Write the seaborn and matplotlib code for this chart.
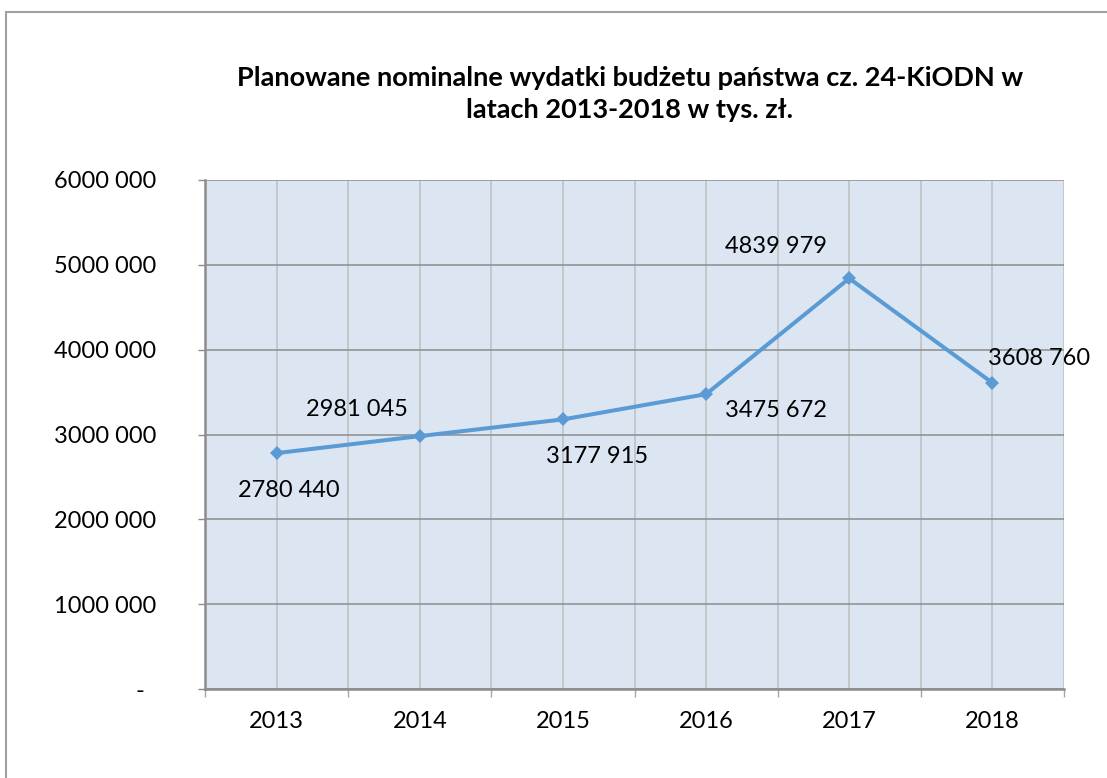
import matplotlib
matplotlib.use("Agg")
import matplotlib.pyplot as plt
from matplotlib.patches import Rectangle
from matplotlib.ticker import FixedLocator
import seaborn as sns
import pandas as pd

years = ['2013', '2014', '2015', '2016', '2017', '2018']
values = [2780440, 2981045, 3177915, 3475672, 4839979, 3608760]
y_ticks = [0, 1000000, 2000000, 3000000, 4000000, 5000000, 6000000]
y_tick_labels = ['-  ', '1000 000', '2000 000', '3000 000', '4000 000', '5000 000', '6000 000']
value_labels = ['2780 440', '2981 045', '3177 915', '3475 672', '4839 979', '3608 760']
title = 'Planowane nominalne wydatki budżetu państwa cz. 24-KiODN w\nlatach 2013-2018 w tys. zł.'

# label offsets (pixels) as placed in the original chart
label_dx = [12, -63, 34, 70, -73, 47]
label_dy = [-37, 27, -37, -16, 32, 24]

sns.set_style("white")
plt.rcParams['font.family'] = ['Lato', 'DejaVu Sans']
plt.rcParams['text.color'] = 'black'

line_color = '#5B9BD5'

df = pd.DataFrame({'pos': range(len(years)), 'value': values})

fig = plt.figure(figsize=(11.07, 7.78), dpi=100)
ax = fig.add_axes([205 / 1107, 1 - 689 / 778, (1064 - 205) / 1107, (689 - 180) / 778])
ax.set_facecolor('#DCE6F2')

sns.lineplot(
    data=df,
    x='pos',
    y='value',
    marker='D',
    markersize=7.5,
    markeredgewidth=0,
    color=line_color,
    linewidth=2.9,
    ax=ax,
    zorder=5
)

ax.set_xlim(-0.5, len(years) - 0.5)
ax.set_ylim(0, 6000000)

ax.set_yticks(y_ticks)
ax.set_yticklabels(y_tick_labels)
ax.set_xticks(range(len(years)))
ax.set_xticklabels(years)
ax.xaxis.set_minor_locator(FixedLocator([i - 0.5 for i in range(len(years) + 1)]))

ax.grid(True, axis='y', which='major', color='#8C8C8C', linewidth=1.1)
ax.grid(True, axis='x', which='major', color='#BFBFBF', linewidth=1.1)
ax.grid(True, axis='x', which='minor', color='#BFBFBF', linewidth=1.1)
ax.set_axisbelow(True)

ax.tick_params(axis='y', which='major', direction='out', length=5, width=1,
               color='#8C8C8C', pad=30, labelsize=17, labelcolor='black', left=True)
ax.tick_params(axis='x', which='major', length=0, pad=16, labelsize=17, labelcolor='black')
ax.tick_params(axis='x', which='minor', direction='out', length=6, width=1,
               color='#A6A6A6', bottom=True)

for side in ['top', 'right']:
    ax.spines[side].set_visible(False)
for side in ['left', 'bottom']:
    ax.spines[side].set_color('#8C8C8C')
    ax.spines[side].set_linewidth(1.8)

ax.set_xlabel('')
ax.set_ylabel('')

for i, lab in enumerate(value_labels):
    ax.annotate(
        lab,
        xy=(i, values[i]),
        xytext=(label_dx[i] * 0.72, label_dy[i] * 0.72),
        textcoords='offset points',
        ha='center',
        va='center',
        fontsize=17,
        color='black',
        zorder=6
    )

fig.text(630 / 1107, 1 - 94 / 778, title, ha='center', va='center',
         fontsize=19.5, fontweight='bold', linespacing=1.42, color='black')

fig.patches.append(Rectangle((6 / 1107, -0.1), 1.2, 1.1 - 12 / 778,
                             transform=fig.transFigure, fill=False,
                             edgecolor='#A0A0A0', linewidth=1.5))

fig.savefig('out.png', dpi=100)
